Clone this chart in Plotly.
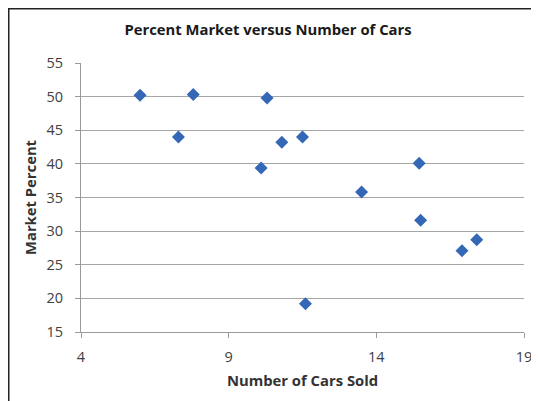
import plotly.graph_objects as go

cars_sold = [6.0, 7.3, 7.8, 10.3, 10.1, 10.8, 11.5, 11.6, 13.5, 15.45, 15.5, 16.9, 17.4]
market_percent = [50.2, 44.0, 50.3, 49.8, 39.4, 43.2, 44.0, 19.2, 35.8, 40.1, 31.6, 27.1, 28.7]

x_ticks = [4, 9, 14, 19]
y_ticks = [15, 20, 25, 30, 35, 40, 45, 50, 55]

# page is offset by 8px body margin; figure coords = page coords - 8
W, H = 531, 393
L, R, T, B = 73, 516, 55, 324

def px_x(p):
    return (p - L) / (R - L)

def px_y(p):
    return (B - p) / (B - T)

fig = go.Figure()
fig.add_trace(go.Scatter(
    x=cars_sold, y=market_percent, mode="markers",
    marker=dict(symbol="diamond", size=10, color="#3467B5"),
    showlegend=False,
))

font_family = "Open Sans, Noto Sans, sans-serif"

fig.update_layout(
    width=W, height=H,
    margin=dict(l=L, r=W - R, t=T, b=H - B, autoexpand=False),
    paper_bgcolor="white", plot_bgcolor="white",
    font=dict(family=font_family, size=12, color="#595959"),
    title=dict(text="<b>Percent Market versus Number of Cars</b>",
               x=260 / W, xanchor="center", y=1 - 22 / H, yanchor="middle",
               font=dict(size=14.8, color="#1a1a1a")),
    xaxis=dict(range=[4, 19], tickvals=x_ticks, ticktext=[str(v) for v in x_ticks],
               automargin=False,
               showgrid=False, zeroline=False, showline=True, linecolor="#9a9a9a",
               linewidth=1, ticks="outside", ticklen=5, tickcolor="#9a9a9a",
               ticklabelstandoff=7,
               tickfont=dict(size=14.5, color="#404040"),
               title=dict(text="<b>Number of Cars Sold</b>", standoff=10,
                          font=dict(size=14.8, color="#333333"))),
    yaxis=dict(range=[15, 55], tickvals=y_ticks, ticktext=[str(v) for v in y_ticks],
               automargin=False,
               showgrid=True, gridcolor="#a6a6a6", gridwidth=1, zeroline=False,
               showline=True, linecolor="#9a9a9a", linewidth=1,
               ticks="outside", ticklen=5, tickcolor="#9a9a9a",
               ticklabelstandoff=9,
               tickfont=dict(size=14.5, color="#404040"),
               title=dict(text="<b>Market Percent</b>", standoff=6,
                          font=dict(size=14.8, color="#333333"))),
    shapes=[
        dict(type="line", xref="paper", yref="paper",
             x0=px_x(0), x1=px_x(W + 2), y0=px_y(0.75), y1=px_y(0.75),
             line=dict(color="#222222", width=1.5)),
        dict(type="line", xref="paper", yref="paper",
             x0=px_x(0.75), x1=px_x(0.75), y0=px_y(0), y1=px_y(H + 2),
             line=dict(color="#222222", width=1.5)),
    ],
)

fig.write_html("out.html")
